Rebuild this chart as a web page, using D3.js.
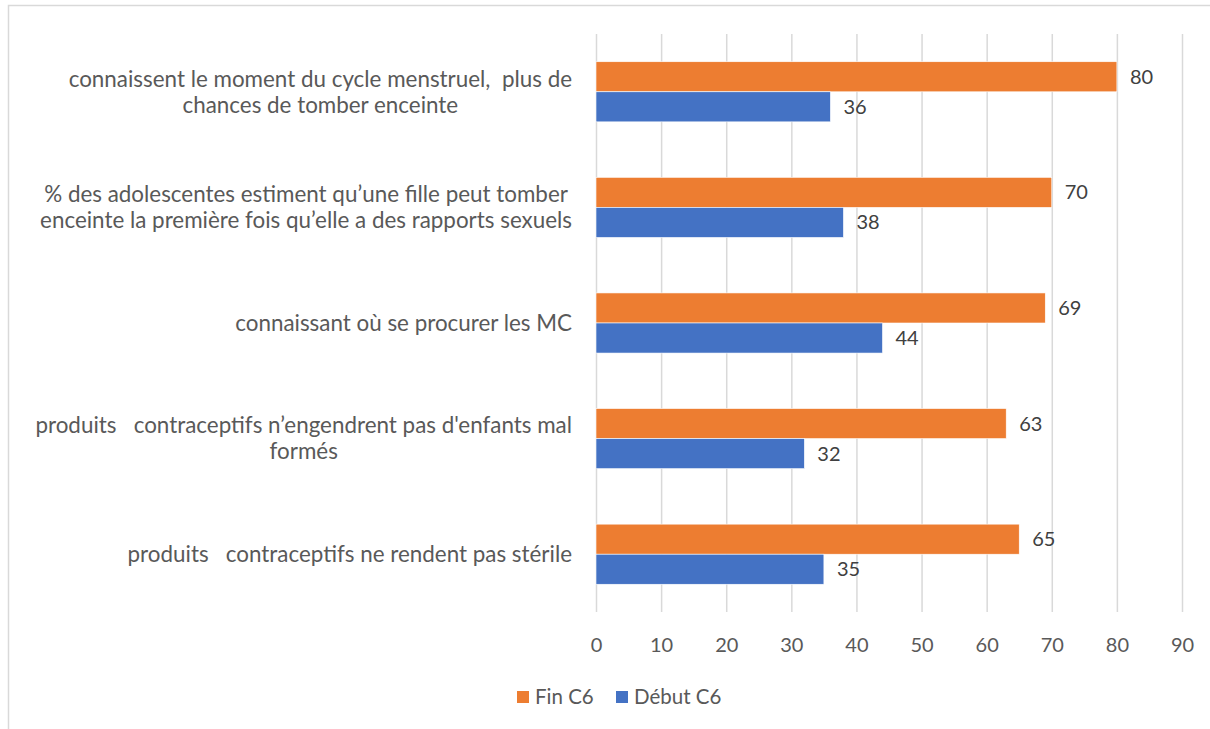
<!DOCTYPE html>
<html>
<head>
<meta charset="utf-8">
<script src="https://cdn.jsdelivr.net/npm/d3@7"></script>
<style>
  html, body { margin: 0; padding: 0; background: #fff; }
  svg { display: block; font-family: Lato, "Open Sans", sans-serif; }
  svg text { white-space: pre; }
</style>
</head>
<body>
<svg id="chart" width="1210" height="729"></svg>
<script>
// Survey indicators, one label (possibly multi-line) per category
const categories = [
  ["connaissent le moment du cycle menstruel,  plus de", "chances de tomber enceinte"],
  ["% des adolescentes estiment qu\u2019une fille peut tomber", "enceinte la première fois qu\u2019elle a des rapports sexuels"],
  ["connaissant où se procurer les MC"],
  ["produits   contraceptifs n\u2019engendrent pas d'enfants mal", "formés"],
  ["produits   contraceptifs ne rendent pas stérile"]
];
const seriesNames = ["Fin C6", "Début C6"];
const finC6 = [80, 70, 69, 63, 65];
const debutC6 = [36, 38, 44, 32, 35];
const xTicks = [0, 10, 20, 30, 40, 50, 60, 70, 80, 90];

const colors = ["#ED7D31", "#4472C4"];
const series = [finC6, debutC6];

const svg = d3.select("#chart");

// outer chart frame
svg.append("rect")
  .attr("x", 8.5).attr("y", 5.5)
  .attr("width", 1210).attr("height", 740)
  .attr("fill", "#fff").attr("stroke", "#d9d9d9").attr("stroke-width", 1.5);

const plot = { left: 596, right: 1182, top: 34, bottom: 612 };

const x = d3.scaleLinear().domain([0, 90]).range([plot.left, plot.right]);
const y = d3.scaleBand()
  .domain(d3.range(categories.length))
  .range([plot.top, plot.bottom])
  .paddingInner(0.48)
  .paddingOuter(0.24);
const ySub = d3.scaleBand().domain(d3.range(series.length)).range([0, y.bandwidth()]);

// vertical gridlines + tick labels via the axis generator
const axis = d3.axisBottom(x).tickValues(xTicks).tickSize(-(plot.bottom - plot.top)).tickPadding(0);
const gAxis = svg.append("g")
  .attr("transform", `translate(0,${plot.bottom})`)
  .call(axis);
gAxis.select(".domain").remove();
gAxis.selectAll(".tick line").attr("stroke", "#d9d9d9").attr("stroke-width", 1.5);
gAxis.selectAll(".tick text")
  .attr("y", 33)
  .attr("dy", "0.35em")
  .attr("fill", "#595959")
  .style("font-size", "20px")
  .style("font-family", "Lato, 'Open Sans', sans-serif");

// bars
const groups = svg.append("g").selectAll("g")
  .data(categories)
  .join("g")
  .attr("transform", (d, i) => `translate(0,${y(i)})`);

groups.each(function(d, i) {
  const g = d3.select(this);
  series.forEach((vals, s) => {
    g.append("rect")
      .attr("x", x(0))
      .attr("y", ySub(s))
      .attr("width", x(vals[i]) - x(0))
      .attr("height", ySub.bandwidth())
      .attr("fill", colors[s])
      .attr("stroke", "#fff")
      .attr("stroke-width", 0.6);
    g.append("text")
      .attr("x", x(vals[i]) + 13)
      .attr("y", ySub(s) + ySub.bandwidth() / 2)
      .attr("dy", "0.35em")
      .attr("fill", "#404040")
      .style("font-size", "20px")
      .text(vals[i]);
  });
});

// category labels: block right-aligned to the plot, lines centred within it
const labelSize = 22.4;
const lineH = 26;
const labelRight = plot.left - 24;
const gLabels = svg.append("g");
categories.forEach((lines, i) => {
  const cy = y(i) + y.bandwidth() / 2;
  const t = gLabels.append("text")
    .attr("fill", "#595959")
    .style("font-size", labelSize + "px");
  const spans = lines.map((ln, k) => t.append("tspan")
    .attr("y", cy + (k - (lines.length - 1) / 2) * lineH)
    .attr("dy", "0.35em")
    .text(ln));
  const widths = spans.map(sp => sp.node().getComputedTextLength());
  const maxW = d3.max(widths);
  const centre = labelRight - maxW / 2;
  spans.forEach(sp => sp.attr("x", centre).attr("text-anchor", "middle"));
});

// legend
const legendItems = [
  { name: seriesNames[0], color: colors[0], x: 517 },
  { name: seriesNames[1], color: colors[1], x: 616 }
];
const gLeg = svg.append("g");
legendItems.forEach(it => {
  gLeg.append("rect")
    .attr("x", it.x).attr("y", 691)
    .attr("width", 12).attr("height", 12)
    .attr("fill", it.color);
  gLeg.append("text")
    .attr("x", it.x + 18).attr("y", 697)
    .attr("dy", "0.35em")
    .attr("fill", "#595959")
    .style("font-size", "20.5px")
    .text(it.name);
});
</script>
</body>
</html>
